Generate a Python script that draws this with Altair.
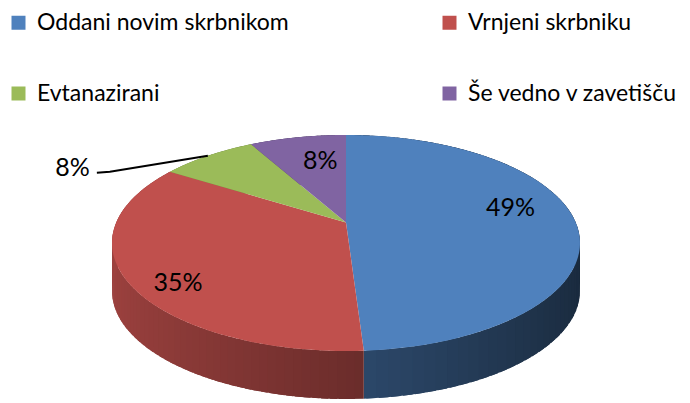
import math
import altair as alt
import pandas as pd

# ---- data ----
categories = ["Oddani novim skrbnikom", "Vrnjeni skrbniku", "Evtanazirani", "Še vedno v zavetišču"]
values = [49, 35, 8, 8]
colors = ["#4F81BD", "#C0504D", "#9BBB59", "#8064A2"]
label_outside = [False, False, True, False]
label_nudge_x = [-7, -8, 0, 12]
label_nudge_y = [-12, 18, 0, 5]

# ---- geometry / style ----
W, H = 690, 403
CX, CY = 346, 243          # centre of the top ellipse
RX, RY = 234, 108          # radii of the top ellipse
DEPTH = 48                 # thickness of the pie
A = -0.19                  # perspective factor
S = math.sqrt(1 - A * A)
N_ARC = 90
N_STRIP = 70
LABEL_R = 0.75
LDX, LDY, TAIL, GAP = -98, 16, 13, 7
FONT = "Lato"
FS = 25

base = pd.DataFrame({
    "category": categories,
    "value": values,
    "base": colors,
    "order": list(range(len(categories))),
    "outside": label_outside,
    "nx": label_nudge_x,
    "ny": label_nudge_y,
})

def xs(field):
    return alt.X(field, scale=alt.Scale(domain=[0, W], nice=False, zero=False), axis=None)

def ys(field):
    return alt.Y(field, scale=alt.Scale(domain=[0, H], nice=False, zero=False, reverse=True), axis=None)


def with_angles(ch):
    return ch.transform_window(
        cum="sum(value)", sort=[alt.SortField("order")], frame=[None, 0]
    ).transform_joinaggregate(total="sum(value)").transform_calculate(
        a0="2*PI*(datum.cum - datum.value)/datum.total",
        a1="2*PI*datum.cum/datum.total",
    )


def project(ch, dz="0"):
    return ch.transform_calculate(
        px=f"{CX} + {RX * S}*datum.u/(1 + ({A})*datum.v)",
        py=f"{CY} + {RY}*(datum.v + ({A}))/(1 + ({A})*datum.v) + {dz}",
    )


# ---- side walls (shaded strips, each overlapping the next) ----
side_df = base.copy()
side_df["ss"] = [list(range(N_STRIP)) for _ in range(len(side_df))]
side = with_angles(alt.Chart(side_df)).transform_flatten(["ss"], as_=["s"]).transform_calculate(
    cs="[0,1,2,3]"
).transform_flatten(["cs"], as_=["c"]).transform_calculate(
    t=f"min(datum.s + ((datum.c == 1 || datum.c == 2) ? 1.8 : 0), {N_STRIP})",
    phi=f"datum.a0 + (datum.a1 - datum.a0)*datum.t/{N_STRIP}",
    u="sin(datum.phi)",
    v="-cos(datum.phi)",
    um=f"sin(datum.a0 + (datum.a1 - datum.a0)*(datum.s + 0.5)/{N_STRIP})",
    f="0.57 - 0.25*datum.um",
    col="'rgb(' + round(rgb(datum.base).r*datum.f) + ',' + round(rgb(datum.base).g*datum.f) + ',' + round(rgb(datum.base).b*datum.f) + ')'",
    sid="datum.order*1000 + datum.s",
    dz=f"datum.c >= 2 ? {DEPTH} : 0",
)
side = project(side, "datum.dz").mark_line(filled=True, strokeWidth=0).encode(
    x=xs("px:Q"), y=ys("py:Q"),
    order="c:Q",
    detail="sid:Q",
    fill=alt.Fill("col:N", scale=None),
)

# ---- top face ----
top_df = base.copy()
top_df["ks"] = [list(range(-1, N_ARC + 1)) for _ in range(len(top_df))]
top = with_angles(alt.Chart(top_df)).transform_flatten(["ks"], as_=["k"]).transform_calculate(
    phi=f"datum.a0 + (datum.a1 - datum.a0)*max(datum.k, 0)/{N_ARC}",
    r="datum.k < 0 ? 0 : 1",
    u="datum.r*sin(datum.phi)",
    v="-datum.r*cos(datum.phi)",
)
top = project(top).mark_line(filled=True).encode(
    x=xs("px:Q"), y=ys("py:Q"),
    order="k:Q",
    detail="category:N",
    color=alt.Color(
        "category:N",
        scale=alt.Scale(domain=categories, range=colors),
        legend=alt.Legend(
            title=None, orient="none", legendX=7, legendY=11, columns=2,
            direction="horizontal",
            symbolType="square", symbolSize=196, symbolStrokeWidth=0,
            labelFont=FONT, labelFontSize=23, labelColor="black",
            columnPadding=149, rowPadding=47, labelLimit=400, labelOffset=7,
        ),
    ),
)

# ---- labels ----
lab = with_angles(alt.Chart(base)).transform_calculate(
    mid="(datum.a0 + datum.a1)/2",
    r=f"datum.outside ? 1 : {LABEL_R}",
    u="datum.r*sin(datum.mid)",
    v="-datum.r*cos(datum.mid)",
    pct="format(datum.value/datum.total, '.0%')",
)
lab = project(lab)

inside = lab.transform_filter("!datum.outside").transform_calculate(
    tx="datum.px + datum.nx", ty="datum.py + datum.ny"
).mark_text(font=FONT, fontSize=FS, color="black").encode(
    x=xs("tx:Q"), y=ys("ty:Q"), text="pct:N"
)

outside_text = lab.transform_filter("datum.outside").transform_calculate(
    tx=f"datum.px + ({LDX - TAIL - GAP})",
    ty=f"datum.py + ({LDY - 4})",
).mark_text(font=FONT, fontSize=FS, color="black", align="right").encode(
    x=xs("tx:Q"), y=ys("ty:Q"), text="pct:N",
)

leader = lab.transform_filter("datum.outside").transform_calculate(
    ps="[0,1,2]"
).transform_flatten(["ps"], as_=["p"]).transform_calculate(
    lx=f"datum.px + (datum.p >= 1 ? {LDX} : 0) + (datum.p == 2 ? {-TAIL} : 0)",
    ly=f"datum.py + (datum.p >= 1 ? {LDY} : 0) + (datum.p == 2 ? 1 : 0)",
).mark_line(color="black", strokeWidth=2).encode(
    x=xs("lx:Q"), y=ys("ly:Q"),
    order="p:Q",
    detail="category:N",
)

chart = alt.layer(side, top, leader, inside, outside_text).properties(
    width=W, height=H, padding=0, autosize="none", background="white"
).configure_view(stroke=None)

chart.save("out.html", embed_options={"renderer": "svg", "actions": False})
